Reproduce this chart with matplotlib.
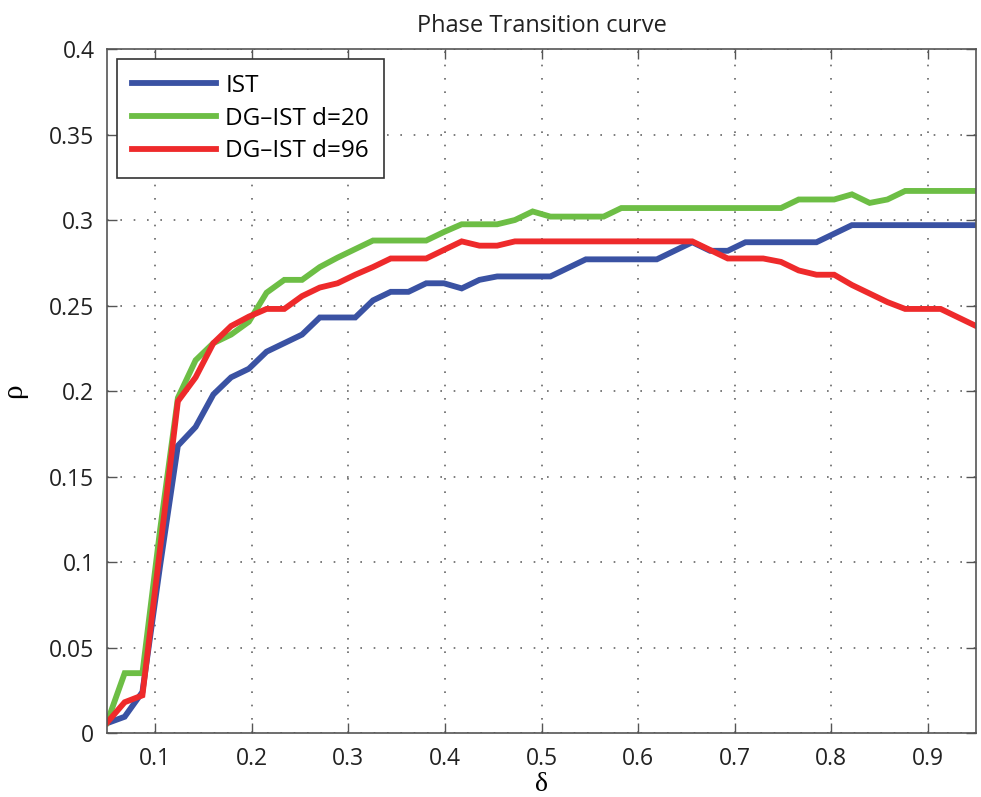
import numpy as np
import matplotlib
matplotlib.use("Agg")
import matplotlib.pyplot as plt

# sampling grid in delta (50 points between 0.05 and 0.95)
delta = np.linspace(0.05, 0.95, 50)

rho_ist = [0.0057, 0.0095, 0.024, 0.098, 0.168, 0.179, 0.198, 0.208, 0.213, 0.223,
           0.228, 0.233, 0.243, 0.243, 0.243, 0.253, 0.258, 0.258, 0.263, 0.263,
           0.260, 0.265, 0.267, 0.267, 0.267, 0.267, 0.272, 0.277, 0.277, 0.277,
           0.277, 0.277, 0.282, 0.287, 0.282, 0.282, 0.287, 0.287, 0.287, 0.287,
           0.287, 0.292, 0.297, 0.297, 0.297, 0.297, 0.297, 0.297, 0.297, 0.297]

rho_dg20 = [0.006, 0.035, 0.035, 0.119, 0.196, 0.218, 0.228, 0.233, 0.2405, 0.2575,
            0.265, 0.265, 0.2725, 0.278, 0.283, 0.288, 0.288, 0.288, 0.288, 0.293,
            0.2975, 0.2975, 0.2975, 0.300, 0.305, 0.302, 0.302, 0.302, 0.302, 0.307,
            0.307, 0.307, 0.307, 0.307, 0.307, 0.307, 0.307, 0.307, 0.307, 0.312,
            0.312, 0.312, 0.315, 0.310, 0.312, 0.317, 0.317, 0.317, 0.317, 0.317]

rho_dg96 = [0.006, 0.018, 0.022, 0.108, 0.194, 0.208, 0.228, 0.238, 0.2435, 0.248,
            0.248, 0.2555, 0.2605, 0.263, 0.268, 0.2725, 0.2775, 0.2775, 0.2775, 0.2825,
            0.2875, 0.285, 0.285, 0.2875, 0.2875, 0.2875, 0.2875, 0.2875, 0.2875, 0.2875,
            0.2875, 0.2875, 0.2875, 0.2875, 0.2825, 0.2775, 0.2775, 0.2775, 0.2755, 0.2705,
            0.268, 0.268, 0.262, 0.257, 0.252, 0.248, 0.248, 0.248, 0.243, 0.238]

labels = ["IST", "DG\u2013IST d=20", "DG\u2013IST d=96"]
colors = ["#3a52a3", "#6dbe45", "#ee2a2b"]

x_ticks = [0.1, 0.2, 0.3, 0.4, 0.5, 0.6, 0.7, 0.8, 0.9]
y_ticks = [0, 0.05, 0.1, 0.15, 0.2, 0.25, 0.3, 0.35, 0.4]

plt.rcParams['font.family'] = ['Open Sans', 'DejaVu Sans']

fig = plt.figure(figsize=(9.81, 7.97), dpi=100)
ax = fig.add_axes([0.109, 0.0803, 0.886, 0.8582])

for y, lab, c in zip([rho_ist, rho_dg20, rho_dg96], labels, colors):
    ax.plot(delta, y, color=c, lw=4.2, label=lab, solid_joinstyle='miter')

ax.set_xlim(0.05, 0.95)
ax.set_ylim(0, 0.4)
ax.set_xticks(x_ticks)
ax.set_yticks(y_ticks)
ax.set_xticklabels([f"{v:g}" for v in x_ticks])
ax.set_yticklabels([f"{v:g}" for v in y_ticks])
ax.tick_params(direction='in', length=7, width=1, top=True, right=True,
               labelsize=16.5, colors='#222222', color='#555555')
ax.tick_params(axis='x', pad=10)
ax.tick_params(axis='y', pad=9)
for s in ax.spines.values():
    s.set_color('#555555')
    s.set_linewidth(1.2)

ax.grid(True, color='#666666', linestyle=(0, (1, 7)), linewidth=1.2)

ax.set_title("Phase Transition curve", fontsize=17, color='#222222', pad=12)
ax.set_xlabel("\u03b4", family=['Liberation Serif'], fontsize=20, labelpad=1)
ax.set_ylabel("\u03c1", family=['Liberation Serif'], fontsize=21, labelpad=16)

leg = ax.legend(loc='upper left', fontsize=17.5, handlelength=3.45, handletextpad=0.4,
                borderaxespad=0.4, fancybox=False, framealpha=1, borderpad=0.62,
                labelspacing=0.36)
leg.get_frame().set_edgecolor('#333333')
leg.get_frame().set_linewidth(1.2)

fig.savefig("out.png", dpi=100)
